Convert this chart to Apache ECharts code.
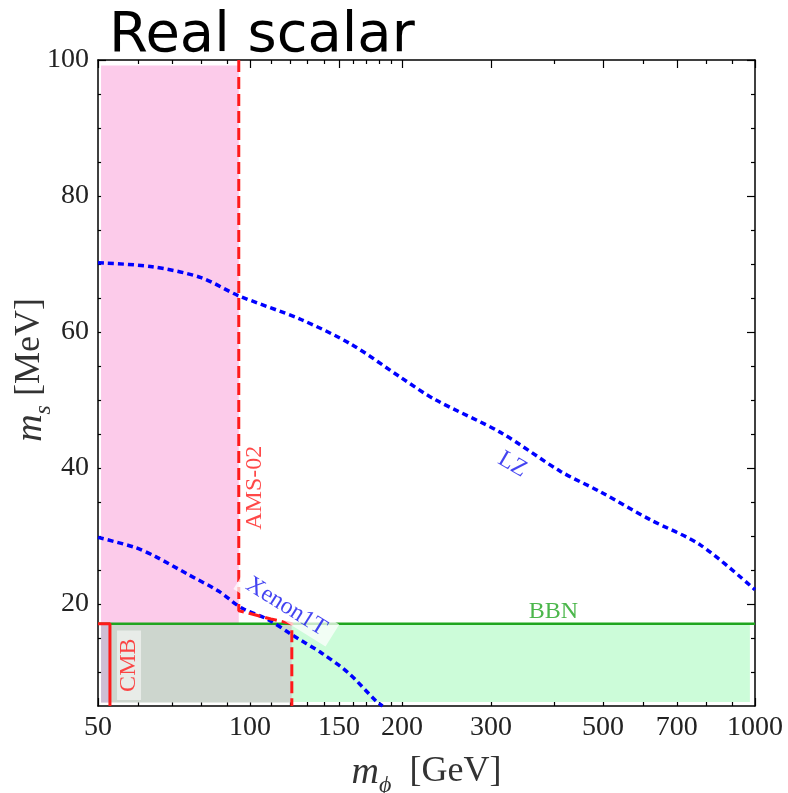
<!DOCTYPE html>
<html><head><meta charset="utf-8">
<script src="https://cdn.jsdelivr.net/npm/echarts@6/dist/echarts.min.js"></script>
<style>html,body{margin:0;padding:0;background:#fff}#c{width:788px;height:793px}</style>
</head><body><div id="c"></div>
<script>
// ---- data ----
const xMajorTicks = [50, 100, 150, 200, 300, 500, 700, 1000];
const xMinorTicks = [60, 70, 80, 90, 110, 120, 130, 140, 160, 170, 180, 190, 400, 600, 800, 900];
const yMajorTicks = [20, 40, 60, 80, 100];
const yMinorTicks = [10, 15, 25, 30, 35, 45, 50, 55, 65, 70, 75, 85, 90, 95];

const lzMphi = [50, 64, 80, 94.5, 126.5, 158.6, 199, 232, 314, 412, 494, 620, 779, 1000];
const lzMs   = [70.2, 69.6, 68.0, 65.4, 61.8, 58.2, 53.3, 50.1, 45.2, 39.5, 36.5, 32.4, 28.7, 22.1];

const xenonMphi = [50, 59.3, 64.9, 75.6, 86.6, 96.3, 108.7, 120.9, 138.5, 156.4, 177.8, 183];
const xenonMs   = [29.8, 28.3, 27.0, 24.3, 21.9, 19.4, 17.7, 15.5, 12.8, 9.9, 5.7, 5];

const amsMphi = [95, 95, 100, 110, 121, 121];
const amsMs   = [100, 19, 18.6, 17.8, 17.1, 5];

const bbnMphi = [50, 1000];
const bbnMs   = [17.1, 17.1];

const cmbMphi = [50, 52.8, 52.8];
const cmbMs   = [17.1, 17.1, 5];

// shaded regions: [mphiFrom, msFrom, mphiTo, msTo]
const amsRegion     = [50.7, 17.1, 95, 99.2];
const overlapRegion = [52.8, 5.5, 121, 17.1];
const cmbRegion     = [50.7, 5.5, 52.8, 17.1];
const bbnRegion     = [121, 5.6, 977, 17.1];

const labelTexts = ['AMS-02', 'CMB', 'BBN', 'Xenon1T', 'LZ'];
const labelMphi  = [102.2, 57.6, 399, 118, 331];
const labelMs    = [37.1, 11.0, 18.8, 19.6, 40.5];

// ---- chart ----
const serif = "'Liberation Serif','DejaVu Serif',serif";
const zip = (a, b) => a.map((v, i) => [v, b[i]]);
const rect = (r, color) => [{ coord: [r[0], r[1]], itemStyle: { color } }, { coord: [r[2], r[3]] }];

const nameRich = {
  i: { fontFamily: serif, fontStyle: 'italic', fontSize: 38, color: '#333', lineHeight: 40, verticalAlign: 'top' },
  s: { fontFamily: serif, fontStyle: 'italic', fontSize: 24, color: '#333', lineHeight: 24, padding: [20, 0, 0, 0], verticalAlign: 'top' },
  n: { fontFamily: serif, fontSize: 36, color: '#333', lineHeight: 40, verticalAlign: 'top' }
};

function xAx(pos, ticks, len, main) {
  return {
    type: 'log', logBase: 10, min: 50, max: 1000, position: pos,
    axisLine: { show: main, onZero: false, lineStyle: { color: '#000', width: 1.5 } },
    axisTick: { show: true, inside: true, length: len, customValues: ticks, lineStyle: { color: '#000', width: 1.2 } },
    axisLabel: { show: main && pos === 'bottom', customValues: ticks, fontFamily: serif, fontSize: 28, color: '#222', margin: 8,
      formatter: v => String(v) },
    splitLine: { show: false }, minorTick: { show: false }
  };
}
function yAx(pos, ticks, len, main) {
  return {
    type: 'value', min: 5, max: 100, position: pos,
    axisLine: { show: main, onZero: false, lineStyle: { color: '#000', width: 1.5 } },
    axisTick: { show: true, inside: true, length: len, customValues: ticks, lineStyle: { color: '#000', width: 1.2 } },
    axisLabel: { show: main && pos === 'left', customValues: ticks, fontFamily: serif, fontSize: 28, color: '#222', margin: 9,
      formatter: v => String(v) },
    splitLine: { show: false }, minorTick: { show: false }
  };
}

const xAxes = [xAx('bottom', xMajorTicks, 8, true), xAx('bottom', xMinorTicks, 4, false),
               xAx('top', xMajorTicks, 8, true), xAx('top', xMinorTicks, 4, false)];
Object.assign(xAxes[0], {
  name: '{i|m}{s|ϕ}{n|  [GeV]}', nameLocation: 'middle', nameGap: 48, nameMoveOverlap: false,
  nameTextStyle: { rich: nameRich }
});
const yAxes = [yAx('left', yMajorTicks, 8, true), yAx('left', yMinorTicks, 4, false),
               yAx('right', yMajorTicks, 8, true), yAx('right', yMinorTicks, 4, false)];
Object.assign(yAxes[0], {
  name: '{i|m}{s|s}{n| [MeV]}', nameLocation: 'middle', nameGap: 46, nameMoveOverlap: false,
  nameTextStyle: { rich: nameRich, padding: [0, 0, 0, 26] }
});

const labelStyles = [
  { color: '#ff1a1a', rotate: 90 },
  { color: '#ff1a1a', rotate: 90, backgroundColor: 'rgba(242,244,242,0.92)', padding: [0, 8] },
  { color: '#1fa51f' },
  { color: '#1414ee', rotate: -32, backgroundColor: 'rgba(255,255,255,0.92)', padding: [1, 9] },
  { color: '#1414ee', rotate: -30 }
];

const option = {
  animation: false,
  backgroundColor: '#fff',
  title: { text: 'Real scalar', left: 104, top: 3,
    textStyle: { fontFamily: 'DejaVu Sans', fontSize: 56, fontWeight: 'normal', color: '#000' } },
  grid: { left: 98, right: 33, top: 60, bottom: 87, containLabel: false, outerBoundsMode: 'none' },
  xAxis: xAxes,
  yAxis: yAxes,
  series: [
    { type: 'line', data: [], z: 1, silent: true,
      markArea: { silent: true, itemStyle: { opacity: 1 }, data: [
        rect(amsRegion, '#fccbea'),
        rect(bbnRegion, '#ccfcd9'),
        rect(overlapRegion, '#cdd6ce'),
        rect(cmbRegion, '#cebed5')
      ] } },
    { name: 'BBN', type: 'line', data: zip(bbnMphi, bbnMs), z: 3, symbol: 'none',
      lineStyle: { color: '#1fa51f', width: 2.5 } },
    { name: 'LZ', type: 'line', data: zip(lzMphi, lzMs), z: 4, symbol: 'none', smooth: 0.3,
      lineStyle: { color: '#0000ff', width: 3.5, type: [6, 4] } },
    { name: 'Xenon1T', type: 'line', data: zip(xenonMphi, xenonMs), z: 4, symbol: 'none', smooth: 0.3,
      lineStyle: { color: '#0000ff', width: 3.5, type: [6, 4] } },
    { name: 'AMS-02', type: 'line', data: zip(amsMphi, amsMs), z: 5, symbol: 'none',
      lineStyle: { color: '#ff1a1a', width: 3, type: [12, 5] } },
    { name: 'CMB', type: 'line', data: zip(cmbMphi, cmbMs), z: 5, symbol: 'none',
      lineStyle: { color: '#ff1a1a', width: 3 } },
    { type: 'scatter', z: 10, silent: true, symbolSize: 1, itemStyle: { color: 'rgba(0,0,0,0)' },
      label: { show: true, position: 'inside', fontFamily: serif, fontSize: 24,
        formatter: p => labelTexts[p.dataIndex] },
      data: labelTexts.map((t, i) => ({ value: [labelMphi[i], labelMs[i]], label: labelStyles[i] })) }
  ]
};
const chart = echarts.init(document.getElementById('c'), null, { renderer: 'canvas' });
chart.setOption(option);
</script></body></html>
